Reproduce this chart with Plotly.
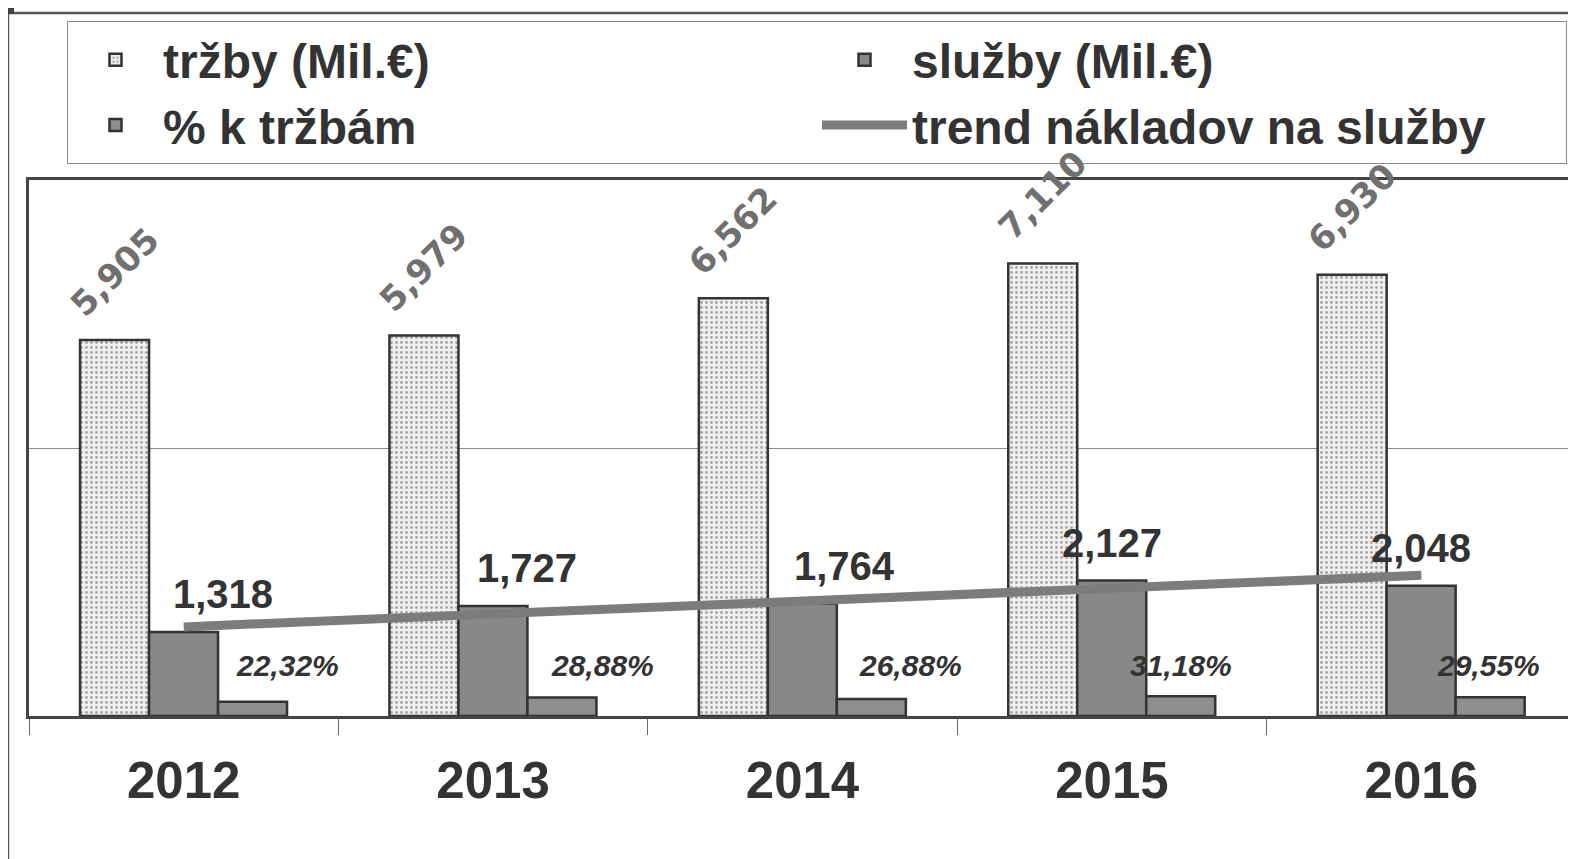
import plotly.graph_objects as go

# ---- data ----
years = ['2012', '2013', '2014', '2015', '2016']
trzby = [5905, 5979, 6562, 7110, 6930]          # tržby (Mil.€)
sluzby = [1318, 1727, 1764, 2127, 2048]         # služby (Mil.€)
pct_k_trzbam = [22.32, 28.88, 26.88, 31.18, 29.55]
trend_years = ['2012', '2016']
trend_vals = [1400, 2210]

# ---- styling (label nudges in px, as placed in the original) ----
sluzby_label_dx = [39, 34, 42, 0, 0]
pct_label_dx = [104, 109, 108, 69, 67]

BAR_W = 0.223
FONT = "Liberation Sans, Arial, sans-serif"
DARK = "#333333"

# page body has an 8px margin; work in screen px and convert
OFF = 8
W, H = 1576 - OFF, 859 - OFF
L, T, B = 29 - OFF, 180 - OFF, 716 - OFF

fig = go.Figure()

fig.add_trace(go.Bar(
    x=years, y=trzby, name="tržby (Mil.€)",
    width=BAR_W, offset=-0.335,
    marker=dict(color="#efefef",
                pattern=dict(shape=".", bgcolor="#f0f0f0", fgcolor="#5e5e5e",
                             size=5, solidity=0.28),
                line=dict(color=DARK, width=2.5)),
))
fig.add_trace(go.Bar(
    x=years, y=sluzby, name="služby (Mil.€)",
    width=BAR_W, offset=-0.112,
    marker=dict(color="#888888", line=dict(color=DARK, width=2.5)),
))
fig.add_trace(go.Bar(
    x=years, y=pct_k_trzbam, name="% k tržbám", yaxis="y2",
    width=BAR_W, offset=0.111,
    marker=dict(color="#8e8e8e", line=dict(color=DARK, width=2.5)),
))
fig.add_trace(go.Scatter(
    x=trend_years, y=trend_vals, name="trend nákladov na služby",
    mode="lines", line=dict(color="#7c7c7c", width=9),
))

cat_px = (W - L) / 5.0
ann = []
for i, y in enumerate(years):
    ann.append(dict(
        x=i, y=trzby[i], xref="x", yref="y", text=f"{trzby[i]:,}",
        showarrow=False, textangle=-45,
        xshift=-(0.2235 * cat_px), yshift=68,
        font=dict(family="DejaVu Sans, sans-serif", size=34, color="#707070", weight="bold"),
    ))
    ann.append(dict(
        x=i, y=sluzby[i], xref="x", yref="y", text=f"{sluzby[i]:,}",
        showarrow=False, xshift=sluzby_label_dx[i], yshift=38,
        font=dict(family=FONT, size=40, color=DARK, weight="bold"),
    ))
    ann.append(dict(
        x=i, y=0, xref="x", yref="y",
        text=f"{pct_k_trzbam[i]:.2f}%".replace(".", ","),
        showarrow=False, xshift=pct_label_dx[i], yshift=51,
        font=dict(family=FONT, size=30, color="#333333", weight="bold", style="italic"),
    ))

def px(xs):
    return (xs - OFF - L) / (W - L)
def py(ys):
    return (B - (ys - OFF)) / (B - T)

shapes = [
    dict(type="line", xref="paper", yref="paper", x0=px(8), x1=px(1576), y0=py(13), y1=py(13),
         line=dict(color="#555555", width=2.5)),
    dict(type="line", xref="paper", yref="paper", x0=px(8), x1=px(8), y0=py(12), y1=py(870),
         line=dict(color="#555555", width=2.5)),
    dict(type="rect", xref="paper", yref="paper", x0=px(8), x1=px(14), y0=py(8), y1=py(14),
         fillcolor="#444444", line=dict(width=0)),
]

fig.update_layout(
    width=W, height=H,
    margin=dict(l=L, r=0, t=T, b=H - B),
    paper_bgcolor="white", plot_bgcolor="white",
    barmode="overlay",
    showlegend=True,
    legend=dict(
        orientation="h", x=px(67), y=py(21), xanchor="left", yanchor="top",
        entrywidth=649, itemwidth=85, bgcolor="white", bordercolor="#8a8a8a", borderwidth=1,
        font=dict(family=FONT, size=48, color=DARK, weight="bold"),
        traceorder="normal",
    ),
    xaxis=dict(
        type="category", range=[-0.5, 4.5],
        showline=True, mirror=True, linecolor="#444444", linewidth=3,
        ticks="outside", tickson="boundaries", ticklen=16, tickcolor="#666666", tickwidth=1,
        ticklabelstandoff=18,
        tickfont=dict(family=FONT, size=51, color=DARK, weight="bold"),
        showgrid=False,
    ),
    yaxis=dict(
        range=[0, 8420], dtick=4210, showgrid=True, gridcolor="#8c8c8c", gridwidth=1,
        showticklabels=False, showline=True, linecolor="#444444", linewidth=3,
        zeroline=False, ticks="",
    ),
    yaxis2=dict(range=[0, 842], overlaying="y", visible=False),
    annotations=ann,
    shapes=shapes,
)

fig.write_html("out.html")
